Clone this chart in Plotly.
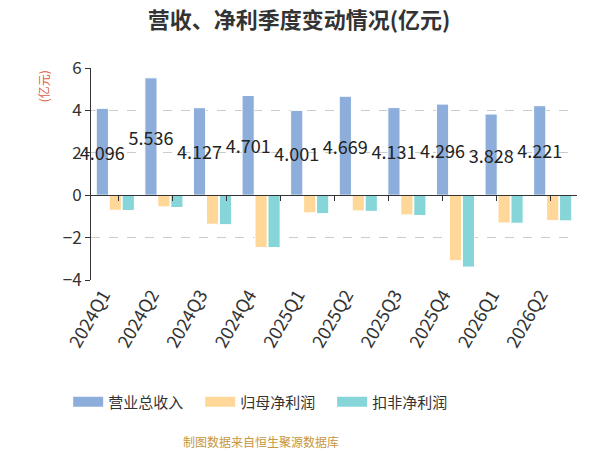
import plotly.graph_objects as go

quarters = ["2024Q1", "2024Q2", "2024Q3", "2024Q4", "2025Q1",
            "2025Q2", "2025Q3", "2025Q4", "2026Q1", "2026Q2"]
revenue = [4.096, 5.536, 4.127, 4.701, 4.001, 4.669, 4.131, 4.296, 3.828, 4.221]
net_profit = [-0.71, -0.55, -1.37, -2.47, -0.83, -0.74, -0.93, -3.09, -1.31, -1.20]
deducted_profit = [-0.72, -0.58, -1.39, -2.47, -0.87, -0.76, -0.96, -3.39, -1.32, -1.21]

series_names = ["营业总收入", "归母净利润", "扣非净利润"]
series_colors = ["#8DAEDB", "#FFD899", "#86D5D8"]

FONT = "Noto Sans CJK SC"

fig = go.Figure()
fig.add_trace(go.Bar(
    x=quarters, y=revenue, name=series_names[0], legendgroup="a", showlegend=False,
    marker=dict(color=series_colors[0], line=dict(color="#ffffff", width=1)),
    text=[f"{v:.3f}" for v in revenue],
    textposition="inside", insidetextanchor="middle", textangle=0,
    constraintext="none", cliponaxis=False,
    textfont=dict(size=18, color="#222222"),
))
fig.add_trace(go.Bar(
    x=quarters, y=net_profit, name=series_names[1], legendgroup="b", showlegend=False,
    marker=dict(color=series_colors[1], line=dict(color="#ffffff", width=1)),
))
fig.add_trace(go.Bar(
    x=quarters, y=deducted_profit, name=series_names[2], legendgroup="c", showlegend=False,
    marker=dict(color=series_colors[2], line=dict(color="#ffffff", width=1)),
))
# wide legend swatches: empty line traces with a thick stroke
for name, color, grp in zip(series_names, series_colors, ["a", "b", "c"]):
    fig.add_trace(go.Scatter(
        x=[quarters[0]], y=[None], mode="lines", name=name, legendgroup=grp,
        line=dict(color=color, width=20), hoverinfo="skip",
    ))
# helper trace so the zero-line axis gets its category ticks
fig.add_trace(go.Scatter(
    x=quarters, y=[0] * len(quarters), xaxis="x2", mode="none",
    showlegend=False, hoverinfo="skip",
))

# the page body has an 8px margin, so the figure is 8px smaller than the window
fig.update_layout(
    width=592, height=442,
    margin=dict(l=83, r=23, t=60, b=170),
    paper_bgcolor="white", plot_bgcolor="white",
    font=dict(family=FONT, color="#333333"),
    title=dict(text="<b>营收、净利季度变动情况(亿元)</b>", x=0.4916, xanchor="center",
               y=0.972, yanchor="middle", font=dict(size=22, color="#333333")),
    barmode="group", bargap=0.2, bargroupgap=0.06,
    legend=dict(orientation="h", x=-0.047, xanchor="left", y=-0.575, yanchor="middle",
                font=dict(size=15, color="#333333"), itemwidth=30,
                entrywidth=87, entrywidthmode="pixels"),
    xaxis=dict(type="category", showline=False, ticks="", tickangle=-60,
               ticklabelshift=-12,
               tickfont=dict(size=18, color="#333333"), showgrid=False,
               automargin=False),
    xaxis2=dict(type="category", overlaying="x", anchor="free", position=0.4,
                categoryorder="array", categoryarray=quarters,
                showline=True, linecolor="#333333", linewidth=1,
                ticks="outside", tickson="boundaries", ticklen=5, tickcolor="#333333",
                showticklabels=False, showgrid=False, automargin=False),
    yaxis=dict(range=[-4, 6], dtick=2, showline=True, linecolor="#333333", linewidth=1,
               ticks="outside", ticklen=5, tickcolor="#333333",
               tickfont=dict(size=17, color="#333333"), automargin=False,
               showgrid=True, gridcolor="#cccccc", griddash="dash", zeroline=False),
    annotations=[
        dict(text="(亿元)", textangle=-90, x=-0.097, y=0.913,
             xref="paper", yref="paper", xanchor="center", yanchor="middle",
             showarrow=False, font=dict(size=12, color="#E0603F")),
        dict(text="制图数据来自恒生聚源数据库", x=0.35, y=-0.76, xref="paper", yref="paper",
             xanchor="center", yanchor="middle",
             showarrow=False, font=dict(size=12, color="#C8963E")),
    ],
)

fig.write_html("out.html")
